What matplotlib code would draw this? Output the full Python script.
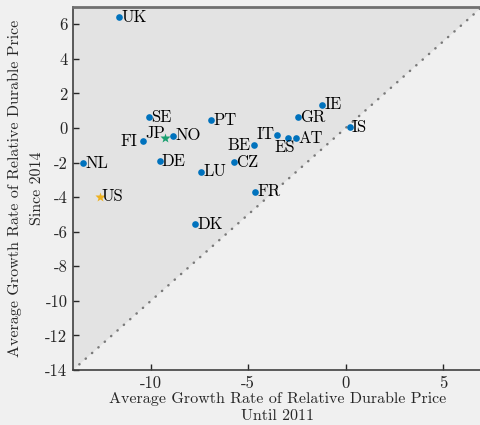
import matplotlib
matplotlib.use("Agg")
import matplotlib.pyplot as plt
import numpy as np

plt.rcParams['font.family'] = 'serif'
plt.rcParams['font.serif'] = ['cmr10', 'DejaVu Serif']
plt.rcParams['mathtext.fontset'] = 'cm'
plt.rcParams['axes.unicode_minus'] = False

countries = ['UK', 'SE', 'PT', 'FI', 'NO', 'NL', 'DE', 'LU', 'CZ', 'BE', 'IT', 'ES', 'AT', 'GR', 'IE', 'IS', 'FR', 'DK']
until_2011 = [-11.64, -10.1, -6.91, -10.41, -8.86, -13.47, -9.54, -7.42, -5.71, -4.72, -3.52, -2.96, -2.53, -2.43, -1.2, 0.22, -4.65, -7.73]
since_2014 = [6.42, 0.64, 0.45, -0.76, -0.45, -2.02, -1.9, -2.52, -1.98, -0.98, -0.43, -0.55, -0.57, 0.64, 1.36, 0.05, -3.69, -5.56]

us_x, us_y = -12.62, -3.98
jp_x, jp_y = -9.25, -0.55

xticks = [-10, -5, 0, 5]
yticks = [-14, -12, -10, -8, -6, -4, -2, 0, 2, 4, 6]
xlim = (-14, 7)
ylim = (-14, 7)

bg = '#f0f0f0'
fig = plt.figure(figsize=(4.8, 4.25), dpi=100, facecolor=bg)
ax = fig.add_axes([0.152, 0.1294, 0.852, 0.854])
ax.set_facecolor(bg)

# shaded region above 45-degree line
ax.fill([xlim[0], xlim[1], xlim[0]], [ylim[0], ylim[1], ylim[1]], color='#e3e3e3', zorder=0, lw=0)
ax.plot([xlim[0], xlim[1]], [ylim[0], ylim[1]], color='#7a7a7a', lw=1.8,
        linestyle=(0, (0.1, 3.3)), dash_capstyle='round', zorder=1)

ax.plot(until_2011, since_2014, 'o', color='#0072BD', ms=4.8, mec='none', zorder=3)
ax.plot([us_x], [us_y], '*', color='#EDB120', ms=7.5, mec='none', zorder=3)
ax.plot([jp_x], [jp_y], '*', color='#1aa070', ms=7.5, mec='none', zorder=3)

fs = 12
left_labels = {'FI': (-4, 0), 'BE': (-2, 0), 'IT': (-2, 0.5)}
for c, x, y in zip(countries, until_2011, since_2014):
    if c in left_labels:
        dx, dy = left_labels[c]
        ax.annotate(c, (x, y), xytext=(dx, dy), textcoords='offset points',
                    ha='right', va='center', fontsize=fs)
    elif c == 'ES':
        ax.annotate(c, (x, y), xytext=(-2, -1.5), textcoords='offset points',
                    ha='center', va='top', fontsize=fs)
    else:
        ax.annotate(c, (x, y), xytext=(1.5, 0), textcoords='offset points',
                    ha='left', va='center', fontsize=fs)
ax.annotate('US', (us_x, us_y), xytext=(1.5, 0), textcoords='offset points',
            ha='left', va='center', fontsize=fs)
ax.annotate('JP', (jp_x, jp_y), xytext=(-0.5, 3), textcoords='offset points',
            ha='right', va='center', fontsize=fs)

ax.set_xlim(*xlim)
ax.set_ylim(*ylim)
ax.set_xticks(xticks)
ax.set_xticklabels([str(v) for v in xticks], fontsize=fs)
ax.set_yticks(yticks)
ax.set_yticklabels([str(v) for v in yticks], fontsize=fs)
ax.tick_params(direction='in', length=4, width=1, colors='#262626', pad=4)

for s in ['left', 'bottom']:
    ax.spines[s].set_color('#404040')
    ax.spines[s].set_linewidth(1.2)
ax.spines['top'].set_color('#707070')
ax.spines['top'].set_linewidth(2)
ax.spines['right'].set_visible(False)

ax.set_xlabel('Average Growth Rate of Relative Durable Price\nUntil 2011', fontsize=11.5,
              linespacing=1.25, labelpad=1, color='#262626')
ax.set_ylabel('Average Growth Rate of Relative Durable Price\nSince 2014', fontsize=11.5,
              linespacing=1.8, labelpad=1, color='#262626')

fig.savefig('out.png', dpi=100, facecolor=bg)
